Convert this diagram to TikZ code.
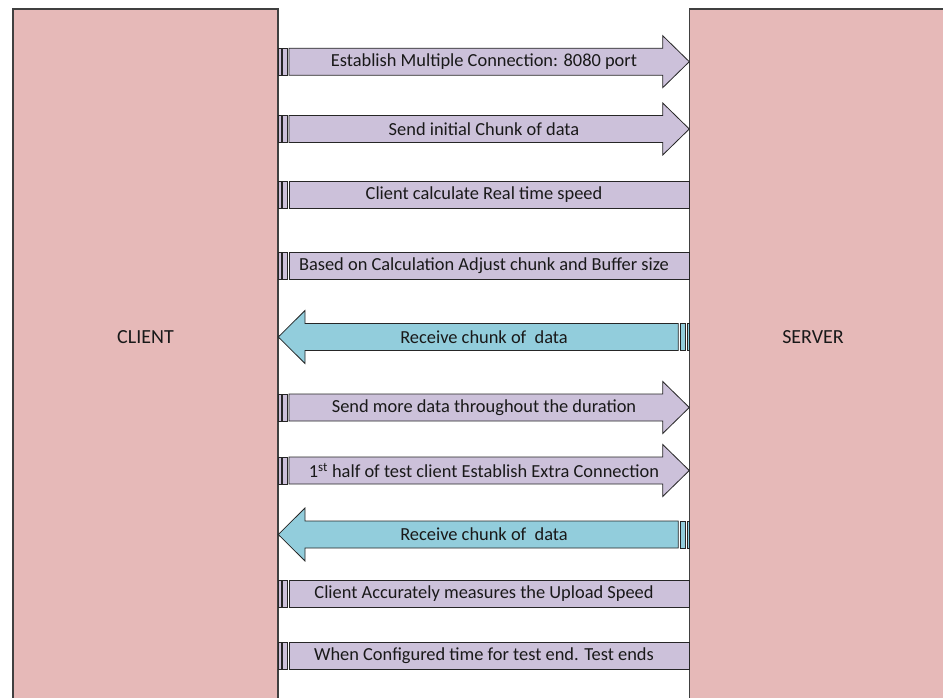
\documentclass[tikz,border=0pt]{standalone}
\usepackage{fontspec}
\setmainfont{Carlito}
\begin{document}
\begin{tikzpicture}[x=1pt,y=-1pt,
  partyline/.style={draw=black!75,line width=1.3pt},
  upshape/.style={draw=black!85,line width=0.8pt,fill=upfill},
  downshape/.style={draw=black!85,line width=0.8pt,fill=downfill},
  msg/.style={font=\fontsize{18.4}{20}\selectfont,text=black!90,inner sep=0pt},
  partylabel/.style={font=\fontsize{20}{22}\selectfont,text=black!90}]
\definecolor{partyfill}{HTML}{E6B9B8}
\definecolor{upfill}{HTML}{CCC1DA}
\definecolor{downfill}{HTML}{92CDDC}

% page area
\clip (0,0) rectangle (943,698);
\fill[white] (0,0) rectangle (943,698);

% the two parties, running past the bottom/right edge
\fill[partyfill] (13,9) rectangle (278,710);
\draw[partyline] (13,710) -- (13,9) -- (278,9) -- (278,710);
\fill[partyfill] (689.5,9) rectangle (960,710);
\draw[partyline] (689.5,710) -- (689.5,9) -- (960,9);
\node[partylabel] (client) at (145.5,337) {CLIENT};
\node[partylabel] (server) at (813,337) {SERVER};

% striped arrow towards the server
\newcommand{\toServer}[3]{%
  \draw[upshape] (278.5,#1-13.5) rectangle (281,#1+13.5);
  \draw[upshape] (282.6,#1-13.5) rectangle (287,#1+13.5);
  \draw[upshape] (289,#1-13.5) -- (662.7,#1-13.5) -- (662.7,#1-26) --
    (689.3,#1) -- (662.7,#1+26) -- (662.7,#1+13.5) -- (289,#1+13.5) -- cycle;
  \node[msg] (#2) at (484,#1) {#3};}
% striped bar with no head, on the client side
\newcommand{\atClient}[3]{%
  \draw[upshape] (278.5,#1-13.5) rectangle (281,#1+13.5);
  \draw[upshape] (282.6,#1-13.5) rectangle (287,#1+13.5);
  \draw[upshape] (289,#1-13.5) rectangle (689.5,#1+13.5);
  \node[msg] (#2) at (484,#1) {#3};}
% striped arrow towards the client
\newcommand{\toClient}[3]{%
  \draw[downshape] (687.2,#1-13.5) rectangle (689.5,#1+13.5);
  \draw[downshape] (680.4,#1-13.5) rectangle (685,#1+13.5);
  \draw[downshape] (678.3,#1-13.5) -- (305,#1-13.5) -- (305,#1-26.5) --
    (278.3,#1) -- (305,#1+26.5) -- (305,#1+13.5) -- (678.3,#1+13.5) -- cycle;
  \node[msg] (#2) at (484,#1) {#3};}

\toServer{61.7}{m1}{Establish Multiple Connection: 8080 port}
\toServer{129}{m2}{Send initial Chunk of data}
\atClient{195}{m3}{Client calculate Real time speed}
\atClient{266}{m4}{Based on Calculation Adjust chunk and Buffer size}
\toClient{337}{m5}{Receive chunk of~~data}
\toServer{407.5}{m6}{Send more data throughout the duration}
\toServer{470.5}{m7}{1\textsuperscript{st} half of test client Establish Extra Connection}
\toClient{534.5}{m8}{Receive chunk of~~data}
\atClient{594}{m9}{Client Accurately measures the Upload Speed}
\atClient{656}{m10}{When Configured time for test end. Test ends}
\end{tikzpicture}
\end{document}
